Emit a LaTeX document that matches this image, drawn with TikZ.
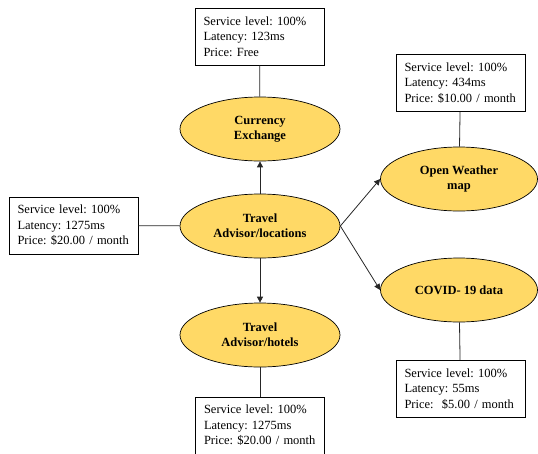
\documentclass[tikz,border=0pt]{standalone}
\usepackage{fontspec}
\setmainfont{Liberation Serif}
\usetikzlibrary{arrows, arrows.meta}
\usetikzlibrary{shapes.geometric}
\definecolor{apiyellow}{RGB}{255,217,102}

\begin{document}
\begin{tikzpicture}[x=1pt, y=-1pt,
    api/.style={ellipse, draw, line width=0.7pt, fill=apiyellow, minimum width=160pt, minimum height=64pt, inner sep=0pt, align=center, font=\fontsize{12.5}{15}\selectfont\bfseries\frenchspacing},
    info/.style={rectangle, draw, line width=0.9pt, fill=white, text width=112pt, inner xsep=8.5pt, minimum height=57pt, align=left, font=\fontsize{12.5}{15.5}\selectfont\frenchspacing},
    link/.style={draw=black!85, line width=0.8pt},
    call/.style={link, -{Triangle[length=6pt, width=6pt]}}]
      \useasboundingbox (0,0) rectangle (538,453);

      \node[api] (loc) at (260,226) {Travel\\Advisor/locations};
      \node[api] (cur) at (260,129) {Currency\\Exchange};
      \node[api] (hot) at (260,335) {Travel\\Advisor/hotels};
      \node[api, minimum width=157pt] (ow) at (459,179) {Open Weather\\map};
      \node[api, minimum width=157pt] (cov) at (459,290) {COVID- 19 data};

      \node[info] (curinfo) at (259.5,36.5) {Service level: 100\%\\Latency: 123ms\\Price: Free};
      \node[info] (locinfo) at (73.5,225.5) {Service level: 100\%\\Latency: 1275ms\\Price: \$20.00 / month};
      \node[info] (hotinfo) at (260,425.5) {Service level: 100\%\\Latency: 1275ms\\Price: \$20.00 / month};
      \node[info] (owinfo) at (460.5,83) {Service level: 100\%\\Latency: 434ms\\Price: \$10.00 / month};
      \node[info] (covinfo) at (460.5,389) {Service level: 100\%\\Latency: 55ms\\Price:\ \ \$5.00 / month};

      \draw[call] (loc) -- (cur);
      \draw[call] (loc) -- (hot);
      \draw[call] (loc.east) -- (ow.west);
      \draw[call] (loc.east) -- (cov.west);

      \draw[link] (curinfo) -- (cur);
      \draw[link] (locinfo) -- (loc);
      \draw[link] (hotinfo) -- (hot);
      \draw[link] (owinfo) -- (ow);
      \draw[link] (covinfo) -- (cov);
    \end{tikzpicture}
\end{document}
